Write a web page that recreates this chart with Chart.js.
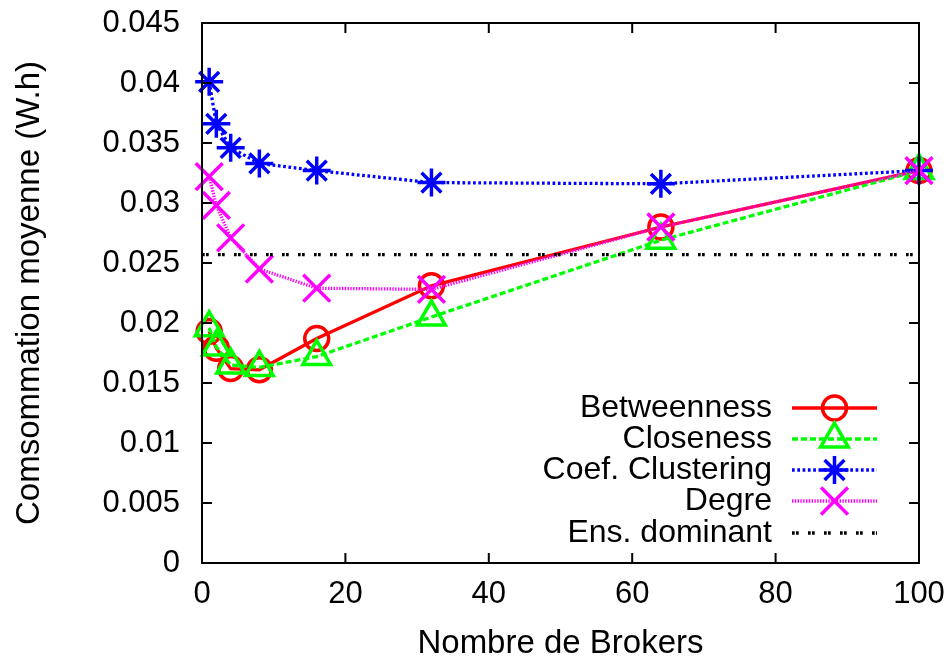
<!DOCTYPE html>
<html>
<head>
<meta charset="utf-8">
<script src="https://cdn.jsdelivr.net/npm/chart.js@4/dist/chart.umd.min.js"></script>
<style>
  html, body { margin: 0; padding: 0; background: #fff; }
  #wrap { width: 950px; height: 656px; }
</style>
</head>
<body>
<div id="wrap"><canvas id="myChart" width="950" height="656"></canvas></div>
<script>
// values
const brokers = [1, 2, 4, 8, 16, 32, 64, 100];
const betweenness = [0.0193, 0.0179, 0.0162, 0.0161, 0.0187, 0.0231, 0.0280, 0.0327];
const closeness = [0.0196, 0.0180, 0.0165, 0.0163, 0.0172, 0.0205, 0.0269, 0.0327];
const clustering = [0.0401, 0.0366, 0.0346, 0.0333, 0.0327, 0.0317, 0.0316, 0.0327];
const degre = [0.0322, 0.0298, 0.0271, 0.0245, 0.0229, 0.0228, 0.0280, 0.0327];
const dominantX = [0, 100];
const dominantY = [0.0257, 0.0257];
const seriesNames = ["Betweenness", "Closeness", "Coef. Clustering", "Degre", "Ens. dominant"];
const xTickLabels = ["0", "20", "40", "60", "80", "100"];
const yTickLabels = ["0", "0.005", "0.01", "0.015", "0.02", "0.025", "0.03", "0.035", "0.04", "0.045"];

const FONT = "'Liberation Sans', Arial, sans-serif";
const toPoints = (xs, ys) => xs.map((x, i) => ({ x: x, y: ys[i] }));

const styles = [
  { color: "#ff0000", dash: [], point: "circle", radius: 12 },
  { color: "#00ff00", dash: [6, 3], point: "triangle", radius: 16 },
  { color: "#0000ff", dash: [2.7, 2.6], point: "star", radius: 14 },
  { color: "#ff00ff", dash: [1.4, 1.4], point: "crossRot", radius: 19 },
  { color: "#000000", dash: [2.7, 1.3, 2.7, 9.3], point: false, radius: 0 },
];

const allY = [betweenness, closeness, clustering, degre];
const datasets = allY.map((ys, i) => ({
  label: seriesNames[i],
  data: toPoints(brokers, ys),
  borderColor: styles[i].color,
  backgroundColor: "rgba(0,0,0,0)",
  borderWidth: 3.3,
  borderDash: styles[i].dash,
  pointStyle: styles[i].point,
  pointRadius: styles[i].radius,
  pointBorderWidth: 3.5,
  pointBorderColor: styles[i].color,
  pointBackgroundColor: "rgba(0,0,0,0)",
  tension: 0,
  clip: false,
  order: 5 - i,
}));
datasets.push({
  label: seriesNames[4],
  data: toPoints(dominantX, dominantY),
  borderColor: "#000000",
  borderWidth: 3.3,
  borderDash: styles[4].dash,
  pointRadius: 0,
  order: 0,
});

// gnuplot-like frame, inward ticks and key
const framePlugin = {
  id: "frame",
  afterDatasetsDraw(chart) {
    const { ctx, chartArea: a, scales } = chart;
    ctx.save();
    ctx.strokeStyle = "#000";
    ctx.lineWidth = 2;
    ctx.setLineDash([]);
    ctx.strokeRect(a.left, a.top, a.right - a.left, a.bottom - a.top);
    const len = 10;
    ctx.beginPath();
    scales.x.ticks.forEach((t) => {
      const px = scales.x.getPixelForValue(t.value);
      ctx.moveTo(px, a.bottom); ctx.lineTo(px, a.bottom - len);
      ctx.moveTo(px, a.top); ctx.lineTo(px, a.top + len);
    });
    scales.y.ticks.forEach((t) => {
      const py = scales.y.getPixelForValue(t.value);
      ctx.moveTo(a.left, py); ctx.lineTo(a.left + len, py);
      ctx.moveTo(a.right, py); ctx.lineTo(a.right - len, py);
    });
    ctx.stroke();

    // key
    const rows = [408, 439, 470, 501, 533];
    const textRight = a.right - 147;
    const lineL = a.right - 127, lineR = a.right - 42, mid = (lineL + lineR) / 2;
    ctx.font = "32px " + FONT;
    ctx.textAlign = "right";
    ctx.textBaseline = "middle";
    rows.forEach((y, i) => {
      const s = styles[i];
      ctx.fillStyle = "#000";
      ctx.fillText(seriesNames[i], textRight, y);
      ctx.strokeStyle = s.color;
      ctx.lineWidth = 3.3;
      ctx.setLineDash(s.dash);
      ctx.beginPath();
      ctx.moveTo(lineL, y); ctx.lineTo(lineR, y);
      ctx.stroke();
      ctx.setLineDash([]);
      if (s.point) {
        ctx.fillStyle = "rgba(0,0,0,0)";
        ctx.lineWidth = 3.5;
        Chart.helpers.drawPoint(ctx, { pointStyle: s.point, radius: s.radius, rotation: 0, borderWidth: 3.5 }, mid, y);
      }
    });
    ctx.restore();
  },
};

new Chart(document.getElementById("myChart").getContext("2d"), {
  type: "line",
  data: { datasets: datasets },
  options: {
    responsive: false,
    animation: false,
    layout: { padding: { top: 23, right: 31, left: 0, bottom: 0 } },
    plugins: { legend: { display: false }, tooltip: { enabled: false } },
    scales: {
      x: {
        type: "linear",
        min: 0,
        max: 100,
        afterFit: (s) => { s.height = 93; s.paddingLeft = 0; s.paddingRight = 0; },
        grid: { display: false, drawTicks: false },
        border: { display: false },
        ticks: {
          stepSize: 20,
          padding: 13,
          color: "#000",
          font: { family: FONT, size: 31 },
          maxRotation: 0,
          callback: (v, i) => xTickLabels[i],
        },
        title: {
          display: true,
          text: "Nombre de Brokers",
          color: "#000",
          font: { family: FONT, size: 33, lineHeight: 1 },
          padding: { top: 0, bottom: -4 },
        },
      },
      y: {
        min: 0,
        max: 0.045,
        afterFit: (s) => { s.width = 202; s.paddingTop = 0; s.paddingBottom = 0; },
        grid: { display: false, drawTicks: false },
        border: { display: false },
        ticks: {
          stepSize: 0.005,
          padding: 22,
          color: "#000",
          font: { family: FONT, size: 31 },
          callback: (v, i) => yTickLabels[i],
        },
        title: {
          display: true,
          text: "Comsommation moyenne (W.h)",
          color: "#000",
          font: { family: FONT, size: 33, lineHeight: 1 },
          padding: { top: 13, bottom: 0 },
        },
      },
    },
  },
  plugins: [framePlugin],
});
</script>
</body>
</html>
